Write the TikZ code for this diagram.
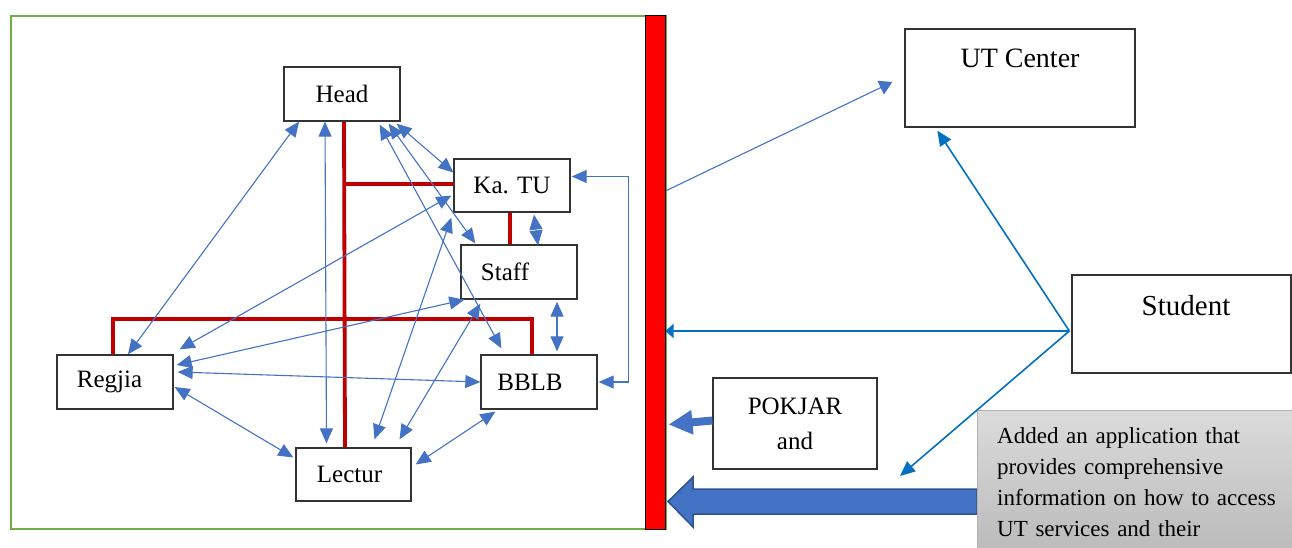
\documentclass[tikz,border=0pt]{standalone}
\usepackage{fontspec}
\setmainfont{Liberation Serif}
\usetikzlibrary{arrows.meta,calc}
\definecolor{FrameClr}{RGB}{112,173,71}
\definecolor{BlueClr}{RGB}{68,114,196}
\definecolor{DarkBlueClr}{RGB}{47,82,143}
\definecolor{StudClr}{RGB}{0,112,192}
\definecolor{RedClr}{RGB}{192,0,0}

\begin{document}
\begin{tikzpicture}[x=1pt,y=-1pt,
  box/.style={draw=black!80,line width=1.3pt,fill=white,inner sep=0pt,
    minimum width=116pt,minimum height=54pt,font=\fontsize{25}{30}\selectfont},
  link/.style={draw=BlueClr,line width=1.1pt,
    {Triangle[length=15pt,width=13pt]}-{Triangle[length=15pt,width=13pt]}},
  redline/.style={draw=RedClr,line width=3.8pt},
  studlink/.style={draw=StudClr,line width=1.6pt,-{Triangle[length=15pt,width=13pt]}}]
\clip (0,0) rectangle (1292,548);

% frame and bar
\draw[FrameClr,line width=2pt] (11,16) rectangle (666,529);
\node (bar) [draw=black,line width=1pt,fill=red,inner sep=0pt,
  minimum width=20pt,minimum height=513pt] at (655,272.5) {};

% red structure lines
\coordinate (spine) at (344,121);
\draw[redline] (spine) -- (345,448);
\draw[redline] (spine |- 454,184) -- (454,184);
\draw[redline] (510,212) -- (510,245);
\draw[redline] (113,355) -- ++(0,-36) -| (532,355);

% units
\node (head) [box] at (342,94) {Head};
\node (katu) [box,minimum height=53pt] at (512,185.5) {Ka. TU};
\node (staff) [box] at (519,272) {Staff\hspace*{28pt}};
\node (regjia) [box] at (115,382) {Regjia\hspace*{11pt}};
\node (bblb) [box] at (539,382) {BBLB\hspace*{18pt}};
\node (lectur) [box,minimum width=115pt,minimum height=53pt] at (353.5,474.5) {Lectur\hspace*{8pt}};

% links between units
\draw[link] ($(head.south)+(-43,0)$) -- ($(regjia.north)+(13,0)$);
\draw[link] ($(head.south)+(-17,0)$) -- ($(lectur.north)+(-27,-4)$);
\draw[link] ($(head.south east)+(-4,2)$) -- ($(katu.west)+(0,-13)$);
\draw[link] ($(head.south east)+(-12,2)$) -- ($(staff.north west)+(15,-1)$);
\draw[link] ($(head.south east)+(-21,3)$) -- ($(bblb.north west)+(21,-6)$);
\draw[link] ($(katu.west)+(-2,10)$) -- ($(regjia.north east)+(6,-5)$);
\draw[link] ($(katu.south west)+(-2,5)$) -- ($(lectur.north)+(21,-8)$);
\draw[link] ($(staff.south west)+(20,4)$) -- ($(lectur.north)+(46,-8)$);
\draw[link] ($(staff.south west)+(4,0)$) -- ($(regjia.east)+(3,-17)$);
\draw[link] ($(regjia.east)+(4,-10)$) -- (bblb.west);
\draw[link] ($(regjia.east)+(1,5)$) -- ($(lectur.west)+(-2,-17)$);
\draw[link] ($(bblb.south west)+(15,2)$) -- ($(lectur.east)+(4,-10)$);
\draw[link] ($(katu.south)+(22,2)$) -- ($(staff.north)+(19,1)$);
\draw[link] ($(staff.south)+(38,2)$) -- ($(bblb.north)+(18,-3)$);
\draw[link] ($(katu.east)+(1,-9)$) -| ($(bblb.east)+(31,0)$) -- ($(bblb.east)+(1,0)$);

% outside
\node (utc) [box,minimum width=230pt,minimum height=98pt,font=\fontsize{28}{32}\selectfont,
  text height=12pt,text depth=32pt] at (1020,78) {UT Center};
\node (student) [box,minimum width=219pt,minimum height=98pt,font=\fontsize{29}{32}\selectfont,
  text height=12pt,text depth=30pt] at (1181.5,324) {\hspace*{9pt}Student};
\node (pokjar) [box,minimum width=164pt,minimum height=91pt,align=center,
  font=\fontsize{25}{35}\selectfont] at (795,423.5) {POKJAR\\and};

\filldraw[fill=BlueClr,draw=DarkBlueClr,line width=1.5pt] (977,489) -- (693,489) -- (693,477)
  -- (668,501.5) -- (693,527) -- (693,514) -- (977,514) -- cycle;
\node (note) [anchor=north west,draw=black!30,top color=black!14,bottom color=black!27,
  inner xsep=20pt,inner ysep=17pt,text width=300pt,align=left,
  font=\fontsize{23}{31}\selectfont] at (977,410)
  {Added an application that\\provides comprehensive\\information on how to access\\UT services and their};

\draw[BlueClr,line width=8pt,-{Triangle[length=24pt,width=23pt]}]
  ($(pokjar.west)+(0,-3)$) -- ($(bar.east |- pokjar.west)+(3,1)$);
\draw[BlueClr,line width=1.1pt,-{Triangle[length=13pt,width=15pt]}]
  ($(bar.east)+(1,-82)$) -- ($(utc.west)+(-12,4)$);

\coordinate (sapex) at ($(student.west)+(-2,7)$);
\coordinate (sfree) at (900,476);
\draw[studlink] (sapex) -- ($(utc.south west)+(33,3)$);
\draw[studlink,-{Triangle[length=8pt,width=14pt]}] (sapex) -- (bar.east |- sapex);
\draw[studlink] (sapex) -- (sfree);
\end{tikzpicture}
\end{document}
